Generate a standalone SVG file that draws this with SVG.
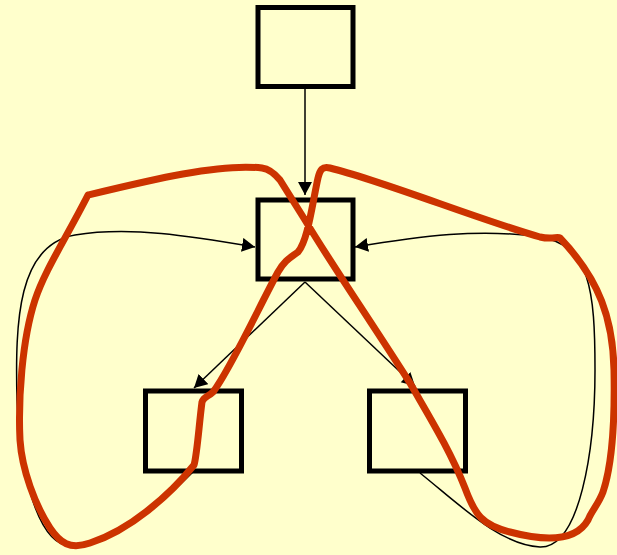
<svg xmlns="http://www.w3.org/2000/svg" width="617" height="555" viewBox="0 0 617 555">
<style>
.box{fill:none;stroke:#000;stroke-width:5}
.edge{fill:none;stroke:#000;stroke-width:1.5}
.scribble{fill:none;stroke:#CC3300;stroke-width:7;stroke-linejoin:round;stroke-linecap:round}
</style>
<defs>
<marker id="arr" markerUnits="userSpaceOnUse" markerWidth="16" markerHeight="16" refX="13" refY="7" orient="auto">
<path d="M0,0 L13,7 L0,14 z" fill="#000"/>
</marker>
</defs>
<rect width="617" height="555" fill="#FFFFCC"/>
<g id="node-top"><rect class="box" x="258" y="7.5" width="95" height="79"/></g>
<g id="node-middle"><rect class="box" x="258" y="200" width="95" height="79"/></g>
<g id="node-left"><rect class="box" x="145.5" y="391" width="96" height="80"/></g>
<g id="node-right"><rect class="box" x="369.5" y="391" width="96" height="80"/></g>
<g id="connectors">
<path class="edge" d="M305 89 L305 195" marker-end="url(#arr)"/>
<path class="edge" d="M305 282 L194 388" marker-end="url(#arr)"/>
<path class="edge" d="M305 282 L415 386" marker-end="url(#arr)"/>
<path class="edge" d="M193 472 C160 505,110 545,72 546 C40 547,20 480,17 400 C15 320,18 245,75 235 C130 226,190 236,255 247" marker-end="url(#arr)"/>
<path class="edge" d="M420 473 C460 505,500 545,540 547 C580 548,595 450,595 370 C595 290,590 245,540 237 C480 228,420 236,355 247" marker-end="url(#arr)"/>
</g>
<g id="scribble">
<path class="scribble" d="M88 195 C150 180,220 163,262 168 C270 169,275 174,280 180 L305 220 C330 262,370 320,410 383 C430 418,450 450,465 488 C475 515,482 525,510 532 C540 540,575 543,588 520 C592 510,598 505,603 492 C612 465,615 420,614 370 C613 320,600 280,560 238 C557 236,553 240,540 237 C480 220,380 180,330 168 C322 166,320 170,318 178 C312 205,308 240,298 252 C290 258,285 260,278 272 C260 305,230 370,213 392 C208 397,204 396,202 402 C199 425,197 455,194 465 C170 495,130 530,90 543 C70 550,60 543,50 528 C35 505,22 470,20 440 C18 400,22 340,35 300 C45 270,65 240,88 195 Z"/>
</g>
</svg>
